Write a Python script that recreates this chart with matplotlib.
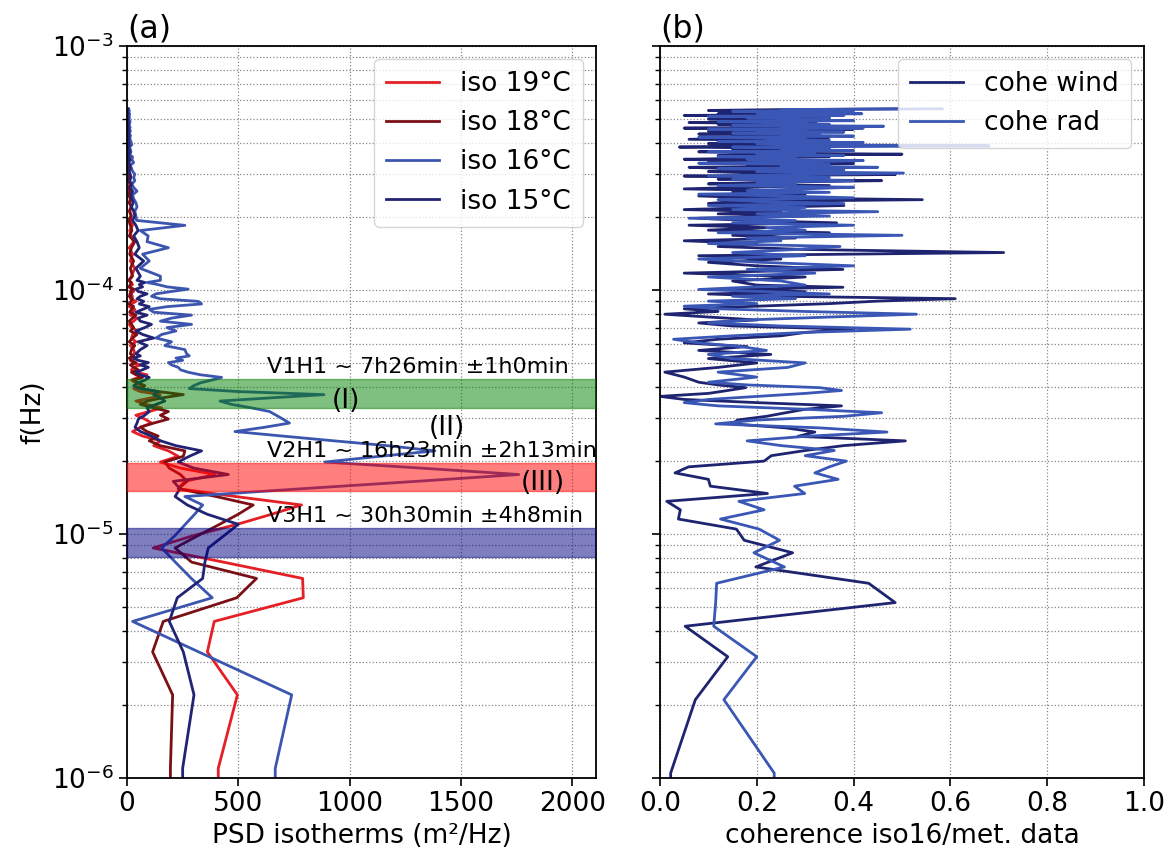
import numpy as np
import matplotlib
matplotlib.use("Agg")
import matplotlib.pyplot as plt

# ---------------- data ----------------
DF_PSD = 1.0957e-6   # frequency resolution of the PSD (Hz)
DF_COH = 1.047e-6    # frequency resolution of the coherence (Hz)

K_PSD = np.r_[0:51, 52:101:2, 104:505:8]
K_COH = np.r_[0:41, 42:101:2, 104:529:4]

psd_iso19 = [410, 410, 496, 361, 392, 792, 789, 433, 118, 300,
             495, 650, 784, 487, 230, 260, 395, 240, 150, 230,
             186, 120, 150, 70, 25, 60, 110, 80, 40, 100,
             156, 90, 40, 110, 150, 60, 30, 70, 40, 20,
             50, 90, 40, 20, 30, 60, 25, 15, 40, 20,
             35,
             30, 15, 40, 20, 25, 50, 20, 10, 30, 45, 15, 25, 35, 10, 20, 40, 15, 25, 12, 30, 20, 8, 25, 15, 10,
             20, 35, 15, 25, 10, 30, 18, 12, 25, 15,
             20, 10, 18, 12, 22, 8, 15, 10, 14, 6,
             12, 9, 5, 10, 7, 4, 8, 6, 3, 7,
             5, 2, 6, 4, 2, 5, 3, 2, 4, 2,
             3, 1, 3, 2, 1, 2, 1, 2, 1, 1, 1]

psd_iso18 = [195, 195, 205, 115, 163, 493, 582, 290, 216, 320,
             416, 500, 567, 400, 230, 270, 240, 190, 170, 253,
             260, 150, 100, 140, 90, 60, 120, 186, 150, 186,
             120, 60, 90, 160, 253, 140, 60, 80, 50, 30,
             70, 40, 20, 50, 30, 15, 40, 20, 10, 30,
             15,
             20, 35, 10, 25, 45, 15, 30, 20, 10, 25, 40, 12, 20, 30, 8, 18, 25, 10, 20, 15, 30, 10, 15, 20, 8,
             25, 15, 30, 12, 20, 35, 10, 22, 15, 8,
             18, 12, 20, 10, 15, 7, 12, 9, 14, 6,
             10, 8, 5, 9, 6, 4, 7, 5, 3, 6,
             4, 3, 5, 3, 2, 4, 2, 3, 2, 1,
             3, 2, 1, 2, 1, 1, 2, 1, 1, 1, 1]

psd_iso16 = [666, 666, 740, 322, 25, 383, 289, 217, 156, 216,
             262, 304, 340, 260, 790, 1300, 1760, 1320, 889, 1136,
             1383, 1171, 927, 698, 485, 620, 730, 700, 670, 640,
             560, 470, 418, 650, 885, 500, 280, 300, 330, 380,
             425, 330, 275, 240, 230, 200, 186, 250, 220, 280,
             268,
             260, 170, 200, 130, 156, 220, 180, 290, 150, 200, 290, 120, 100, 180, 335, 320, 150, 110, 130, 200, 275, 180, 140, 90, 150,
             150, 59, 100, 70, 186, 90, 95, 60, 260, 43,
             40, 35, 45, 40, 30, 25, 45, 30, 22, 35,
             30, 35, 25, 20, 15, 30, 22, 25, 12, 18,
             15, 12, 22, 18, 15, 12, 16, 10, 15, 12,
             14, 9, 12, 14, 8, 11, 10, 12, 9, 10, 8]

psd_iso15 = [250, 250, 301, 253, 190, 226, 340, 350, 365, 437,
             500, 360, 271, 216, 238, 208, 455, 300, 230, 280,
             335, 220, 150, 110, 60, 36, 45, 51, 80, 100,
             90, 130, 170, 150, 120, 141, 60, 30, 50, 80,
             100, 60, 40, 70, 96, 60, 96, 50, 30, 60,
             40,
             60, 90, 50, 120, 70, 40, 80, 110, 60, 50, 90, 40, 70, 100, 55, 75, 45, 60, 90, 50, 40, 70, 55, 80, 45,
             60, 40, 75, 35, 55, 45, 30, 50, 40, 25,
             35, 30, 20, 28, 22, 18, 25, 15, 20, 12,
             18, 14, 10, 15, 12, 9, 13, 10, 8, 11,
             9, 7, 10, 8, 6, 9, 7, 5, 8, 6,
             5, 7, 5, 4, 6, 4, 3, 5, 4, 3, 3]

cohe_wind = [0.02, 0.022, 0.073, 0.140, 0.052, 0.486, 0.431, 0.198, 0.274, 0.174,
             0.158, 0.038, 0.042, 0.014, 0.222, 0.104, 0.10, 0.031, 0.059, 0.215,
             0.23, 0.30, 0.38, 0.507, 0.285, 0.32, 0.26, 0.15, 0.16, 0.22,
             0.26, 0.30, 0.375, 0.20, 0.05, 0.0, 0.10, 0.14, 0.177, 0.12,
             0.08,
             0.05, 0.01, 0.12, 0.20, 0.10, 0.229, 0.08, 0.18, 0.05, 0.12,
             0.25, 0.30, 0.40, 0.15, 0.08, 0.20, 0.10, 0.01, 0.12, 0.05,
             0.20, 0.35, 0.45, 0.61, 0.25, 0.10, 0.30, 0.15, 0.378, 0.20,
             0.15, 0.30, 0.05, 0.378, 0.20, 0.10, 0.25, 0.08, 0.71, 0.30,
             0.12, 0.20, 0.05, 0.28, 0.15, 0.35, 0.10, 0.22, 0.06, 0.365,
             0.18, 0.08, 0.30, 0.12, 0.25, 0.05, 0.20, 0.38, 0.10, 0.15,
             0.542, 0.20, 0.08, 0.30, 0.15, 0.25, 0.05, 0.18, 0.35, 0.10,
             0.22, 0.458, 0.12, 0.30, 0.05, 0.486, 0.20, 0.10, 0.28, 0.15,
             0.06, 0.32, 0.18, 0.40, 0.10, 0.25, 0.05, 0.22, 0.35, 0.12,
             0.50, 0.20, 0.08, 0.30, 0.15, 0.26, 0.04, 0.18, 0.38, 0.10,
             0.25, 0.12, 0.30, 0.06, 0.20, 0.35, 0.15, 0.28, 0.08, 0.22,
             0.33, 0.10, 0.18, 0.40, 0.05, 0.25, 0.15, 0.30, 0.12, 0.20,
             0.06, 0.323, 0.18, 0.25, 0.10, 0.35, 0.15, 0.22, 0.05, 0.30,
             0.12, 0.28, 0.20, 0.38, 0.10, 0.25, 0.49]

cohe_rad = [0.236, 0.236, 0.132, 0.20, 0.111, 0.115, 0.117, 0.257, 0.194, 0.247,
            0.205, 0.125, 0.215, 0.163, 0.299, 0.278, 0.368, 0.32, 0.35, 0.385,
            0.30, 0.36, 0.25, 0.18, 0.30, 0.469, 0.33, 0.115, 0.20, 0.38,
            0.458, 0.30, 0.12, 0.05, 0.10, 0.20, 0.30, 0.375, 0.33, 0.18,
            0.10,
            0.20, 0.12, 0.264, 0.30, 0.15, 0.10, 0.22, 0.167, 0.08, 0.028,
            0.15, 0.30, 0.517, 0.25, 0.10, 0.18, 0.35, 0.53, 0.30, 0.12,
            0.05, 0.20, 0.10, 0.28, 0.15, 0.35, 0.22, 0.08, 0.18, 0.30,
            0.25, 0.10, 0.32, 0.18, 0.40, 0.21, 0.08, 0.30, 0.15, 0.28,
            0.372, 0.10, 0.25, 0.18, 0.50, 0.12, 0.30, 0.22, 0.40, 0.15,
            0.28, 0.06, 0.35, 0.20, 0.45, 0.15, 0.30, 0.10, 0.38, 0.22,
            0.12, 0.40, 0.25, 0.08, 0.35, 0.18, 0.30, 0.40, 0.12, 0.28,
            0.20, 0.40, 0.15, 0.35, 0.10, 0.30, 0.503, 0.20, 0.38, 0.12,
            0.45, 0.25, 0.35, 0.08, 0.30, 0.42, 0.18, 0.28, 0.12, 0.38,
            0.20, 0.32, 0.10, 0.40, 0.25, 0.35, 0.15, 0.68, 0.30, 0.20,
            0.42, 0.12, 0.35, 0.22, 0.30, 0.08, 0.40, 0.25, 0.33, 0.15,
            0.38, 0.20, 0.30, 0.10, 0.42, 0.25, 0.462, 0.15, 0.35, 0.22,
            0.30, 0.12, 0.40, 0.25, 0.35, 0.18, 0.28, 0.10, 0.38, 0.22,
            0.417, 0.20, 0.35, 0.15, 0.40, 0.25, 0.583]

# internal-wave modes: period and uncertainty (seconds)
mode_names = ["V1H1", "V2H1", "V3H1"]
mode_period = [7 * 3600 + 26 * 60, 16 * 3600 + 23 * 60, 30 * 3600 + 30 * 60]
mode_err = [1 * 3600 + 0 * 60, 2 * 3600 + 13 * 60, 4 * 3600 + 8 * 60]
mode_colors = ["green", "red", "navy"]

peak_labels = ["(I)", "(II)", "(III)"]
peak_x = [985, 1435, 1870]
peak_f = [3.5e-5, 2.73e-5, 1.62e-5]


def hm(sec):
    h = int(sec // 3600)
    m = int(round((sec - h * 3600) / 60))
    return f"{h}h{m}min"


f_psd = K_PSD * DF_PSD
f_coh = K_COH * DF_COH

# ---------------- figure ----------------
plt.rcParams["font.family"] = "DejaVu Sans"
plt.rcParams["font.size"] = 19

fig = plt.figure(figsize=(11.69, 8.61), dpi=100)
W, H = 1169, 861
axa = fig.add_axes([127 / W, (H - 778) / H, (596 - 127) / W, (778 - 46) / H])
axb = fig.add_axes([660 / W, (H - 778) / H, (1144 - 660) / W, (778 - 46) / H], sharey=axa)

LW = 2.0
axa.plot(psd_iso19, f_psd, color="#e41f26", lw=LW, label="iso 19°C")
axa.plot(psd_iso18, f_psd, color="#7a1016", lw=LW, label="iso 18°C")
axa.plot(psd_iso16, f_psd, color="#3c56b0", lw=LW, label="iso 16°C")
axa.plot(psd_iso15, f_psd, color="#222373", lw=LW, label="iso 15°C")

for name, T, dT, col in zip(mode_names, mode_period, mode_err, mode_colors):
    f_lo, f_hi = 1.0 / (T + dT), 1.0 / (T - dT)
    axa.axhspan(f_lo, f_hi, color=col, alpha=0.5, zorder=3)
    axa.text(630, f_hi * 1.02, f"{name} ~ {hm(T)} ±{hm(dT)}", fontsize=16,
             ha="left", va="bottom", zorder=5)

for lab, x, f in zip(peak_labels, peak_x, peak_f):
    axa.text(x, f, lab, fontsize=19, ha="center", va="center", zorder=5)

axb.plot(cohe_wind, f_coh, color="#1f2470", lw=LW, label="cohe wind")
axb.plot(cohe_rad, f_coh, color="#3a57b5", lw=LW, label="cohe rad")

for ax in (axa, axb):
    ax.set_yscale("log")
    ax.set_ylim(1e-6, 1e-3)
    ax.grid(True, which="major", axis="both", ls=":", color="#888888", lw=0.9)
    ax.grid(True, which="minor", axis="y", ls=":", color="#888888", lw=0.9)
    ax.tick_params(which="major", length=6, width=1.2)
    ax.tick_params(which="minor", length=3.5, width=1.0)
    for s in ax.spines.values():
        s.set_linewidth(1.3)

axa.set_xlim(0, 2107)
axa.set_xticks([0, 500, 1000, 1500, 2000])
axb.set_xlim(0, 1.0)
axb.set_xticks([0.0, 0.2, 0.4, 0.6, 0.8, 1.0])
plt.setp(axb.get_yticklabels(), visible=False)

axa.set_xlabel("PSD isotherms (m²/Hz)")
axb.set_xlabel("coherence iso16/met. data")
axa.set_ylabel("f(Hz)")
axa.set_title("(a)", loc="left", pad=6)
axb.set_title("(b)", loc="left", pad=6)

axa.legend(loc="upper right", fontsize=19, handlelength=2.0, borderpad=0.45,
           labelspacing=0.5)
axb.legend(loc="upper right", fontsize=19, handlelength=2.0, borderpad=0.45,
           labelspacing=0.5)

fig.savefig("out.png", dpi=100)
